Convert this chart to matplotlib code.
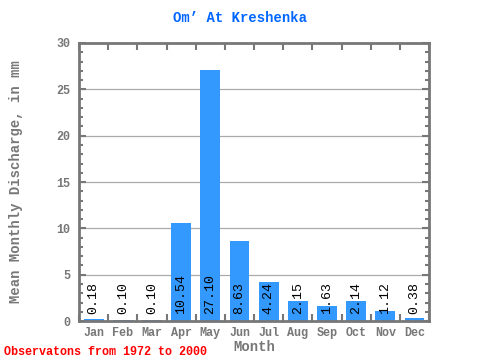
import numpy as np
import matplotlib
matplotlib.use("Agg")
import matplotlib.pyplot as plt
from matplotlib.ticker import MultipleLocator

months = ["Jan", "Feb", "Mar", "Apr", "May", "Jun",
          "Jul", "Aug", "Sep", "Oct", "Nov", "Dec"]
discharge = [0.18, 0.10, 0.10, 10.54, 27.10, 8.63,
             4.24, 2.15, 1.63, 2.14, 1.12, 0.38]

MONO = ["Liberation Mono", "DejaVu Sans Mono"]
GRAY = "#777777"

fig = plt.figure(figsize=(4.8, 3.6), dpi=100)
ax = fig.add_axes([0.1646, 0.108, 0.7294, 0.7726])

x = np.arange(len(months))
ax.bar(x, discharge, width=0.68, color="#3399ff", zorder=2)
for xi, v in zip(x, discharge):
    ax.text(xi, 0.8, f"{v:.2f}", rotation=90, ha="center", va="bottom",
            fontsize=9.5, family=MONO, color="black", zorder=3)

ax.set_xlim(-0.5, 11.5)
ax.set_ylim(0, 30)
ax.yaxis.set_major_locator(MultipleLocator(5))
ax.yaxis.set_minor_locator(MultipleLocator(1))
ax.set_xticks(x)
ax.set_xticks(np.arange(-0.5, 12, 1), minor=True)
ax.set_xticklabels(months)
for yv in range(5, 30, 5):
    ax.axhline(yv, color="#aaaaaa", lw=0.9, zorder=1)

for s in ax.spines.values():
    s.set_color(GRAY)
    s.set_linewidth(2)
ax.tick_params(axis="both", which="both", direction="in", color=GRAY,
               width=1.5, labelcolor=GRAY)
ax.tick_params(axis="y", which="major", length=5, right=True, pad=6)
ax.tick_params(axis="y", which="minor", length=3, right=True)
ax.tick_params(axis="x", which="major", length=0, pad=4)
ax.tick_params(axis="x", which="minor", length=5, top=True)
for lab in ax.get_xticklabels() + ax.get_yticklabels():
    lab.set_family(MONO)
    lab.set_fontsize(8.5)
    lab.set_fontweight("bold")

ax.set_xlabel("Month", family=MONO, fontsize=10, fontweight="bold",
              color=GRAY, labelpad=1)
ax.set_ylabel("Mean Monthly Discharge, in mm", family=MONO, fontsize=10,
              fontweight="bold", color=GRAY, labelpad=24)
fig.text(0.5, 0.95, "Om\u2019 At Kreshenka", ha="center", va="center",
         family=MONO, fontsize=10, fontweight="bold", color="#0066ff")
fig.text(0.008, 0.022, "Observatons from 1972 to 2000", ha="left",
         va="center", family=MONO, fontsize=8.5, fontweight="bold",
         color="red")

fig.savefig("out.png", dpi=100)
